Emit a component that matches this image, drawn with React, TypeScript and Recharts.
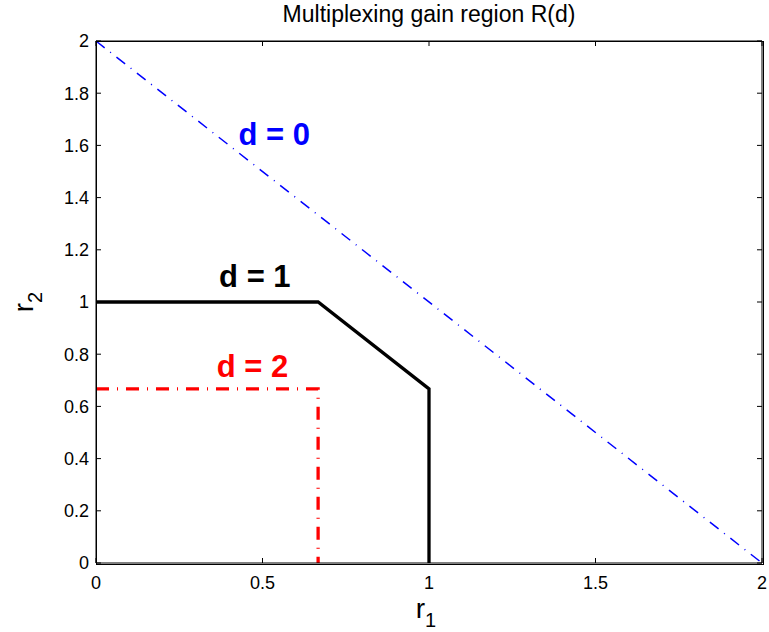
import React from 'react';
import { LineChart, Line, XAxis, YAxis, ReferenceDot, ReferenceLine } from 'recharts';

const xTicks = [0, 0.5, 1, 1.5, 2];
const yTicks = [0, 0.2, 0.4, 0.6, 0.8, 1, 1.2, 1.4, 1.6, 1.8, 2];

const d0R1 = [0, 2];
const d0R2 = [2, 0];
const d1R1 = [0, 0.667, 1, 1];
const d1R2 = [1, 1, 0.667, 0];
const d2R1 = [0, 0.667, 0.667];
const d2R2 = [0.667, 0.667, 0];

const curveLabels = [
  { text: 'd = 0', x: 0.535, y: 1.6, color: '#0000ff' },
  { text: 'd = 1', x: 0.477, y: 1.057, color: '#000000' },
  { text: 'd = 2', x: 0.47, y: 0.713, color: '#ff0000' },
];

const toPts = (xs: number[], ys: number[]) => xs.map((x, i) => ({ x, y: ys[i] }));
const d0 = toPts(d0R1, d0R2);
const d1 = toPts(d1R1, d1R2);
const d2 = toPts(d2R1, d2R2);

const FONT = '"Liberation Sans", Arial, Helvetica, sans-serif';

const W = 769;
const H = 632;
const M_TOP = 41;
const M_RIGHT = 7;
const Y_AXIS_W = 96;
const X_AXIS_H = 69;
const PLOT_W = W - Y_AXIS_W - M_RIGHT;
const PLOT_H = H - M_TOP - X_AXIS_H;

const TL = 5;
const BM = 13;
const LM = 7;
const TICK_FS = 18;

const fmt = (v: number) => String(Number(v.toFixed(2)));

const BottomTick = (p: any) => {
  const { x, y, payload } = p;
  const ay = y - BM;
  const topY = ay - PLOT_H;
  return (
    <g>
      <path d={`M${x},${ay}V${ay - TL}`} stroke="#000" strokeWidth={1} fill="none" />
      <path d={`M${x},${topY}V${topY + TL}`} stroke="#000" strokeWidth={1} fill="none" />
      <text x={x} y={y} dy="0.71em" textAnchor="middle" fontSize={TICK_FS} fontFamily={FONT} fill="#000">
        {fmt(payload.value)}
      </text>
    </g>
  );
};

const LeftTick = (p: any) => {
  const { x, y, payload } = p;
  const ax = x + LM;
  const rightX = ax + PLOT_W;
  return (
    <g>
      <path d={`M${ax},${y}H${ax + TL}`} stroke="#000" strokeWidth={1} fill="none" />
      <path d={`M${rightX - TL},${y}H${rightX}`} stroke="#000" strokeWidth={1} fill="none" />
      <text x={x} y={y} dy="0.355em" textAnchor="end" fontSize={TICK_FS} fontFamily={FONT} fill="#000">
        {fmt(payload.value)}
      </text>
    </g>
  );
};

const XLabel = (p: any) => {
  const vb = p.viewBox;
  const cx = vb.x + vb.width / 2 - 3;
  return (
    <text x={cx} y={vb.y + 55} textAnchor="middle" fontFamily={FONT} fill="#000">
      <tspan fontSize={28}>r</tspan>
      <tspan fontSize={20} dy={9}>1</tspan>
    </text>
  );
};

const YLabel = (p: any) => {
  const vb = p.viewBox;
  const cx = 33;
  const cy = vb.y + vb.height / 2;
  return (
    <text x={cx} y={cy} transform={`rotate(-90, ${cx}, ${cy})`} textAnchor="middle" fontFamily={FONT} fill="#000">
      <tspan fontSize={28}>r</tspan>
      <tspan fontSize={20} dy={9}>2</tspan>
    </text>
  );
};

export default function App() {
  return (
    <div style={{ position: 'absolute', left: 0, top: 0, width: W, height: H, background: '#fff' }}>
      <div
        style={{
          position: 'absolute',
          left: Y_AXIS_W,
          top: 0,
          width: PLOT_W,
          height: 28,
          lineHeight: '28px',
          textAlign: 'center',
          fontFamily: FONT,
          fontSize: 23,
          color: '#000',
        }}
      >
        Multiplexing gain region R(d)
      </div>
      <LineChart width={W} height={H} margin={{ top: M_TOP, right: M_RIGHT, bottom: 0, left: 0 }}>
        <XAxis
          dataKey="x"
          type="number"
          domain={[0, 2]}
          ticks={xTicks}
          height={X_AXIS_H}
          tickSize={0}
          tickMargin={BM}
          tickLine={false}
          axisLine={{ stroke: '#000', strokeWidth: 1 }}
          tick={<BottomTick />}
          interval={0}
          label={<XLabel />}
        />
        <YAxis
          type="number"
          domain={[0, 2]}
          ticks={yTicks}
          width={Y_AXIS_W}
          tickSize={0}
          tickMargin={LM}
          tickLine={false}
          axisLine={{ stroke: '#000', strokeWidth: 1 }}
          tick={<LeftTick />}
          interval={0}
          label={<YLabel />}
        />
        <ReferenceLine y={2} stroke="#000" strokeWidth={1} />
        <ReferenceLine x={2} stroke="#000" strokeWidth={1} />
        <Line
          data={d0}
          dataKey="y"
          stroke="#0000ff"
          strokeWidth={1.5}
          strokeDasharray="11 7 1 7"
          dot={false}
          activeDot={false}
          isAnimationActive={false}
        />
        <Line
          data={d1}
          dataKey="y"
          stroke="#000000"
          strokeWidth={3.3}
          dot={false}
          activeDot={false}
          isAnimationActive={false}
        />
        <Line
          data={d2}
          dataKey="y"
          stroke="#ff0000"
          strokeWidth={3.3}
          strokeDasharray="13 8 1 8"
          dot={false}
          activeDot={false}
          isAnimationActive={false}
        />
        {curveLabels.map((c) => (
          <ReferenceDot
            key={c.text}
            x={c.x}
            y={c.y}
            r={0}
            shape={(p: any) => (
              <text
                x={p.cx}
                y={p.cy}
                textAnchor="middle"
                fontFamily={FONT}
                fontWeight="bold"
                fontSize={31}
                fill={c.color}
              >
                {c.text}
              </text>
            )}
          />
        ))}
      </LineChart>
      <div
        style={{
          position: 'absolute',
          left: Y_AXIS_W - 0.5,
          top: M_TOP - 0.5,
          width: PLOT_W,
          height: PLOT_H,
          border: '1px solid #000',
          boxSizing: 'content-box',
          pointerEvents: 'none',
        }}
      />
    </div>
  );
}
